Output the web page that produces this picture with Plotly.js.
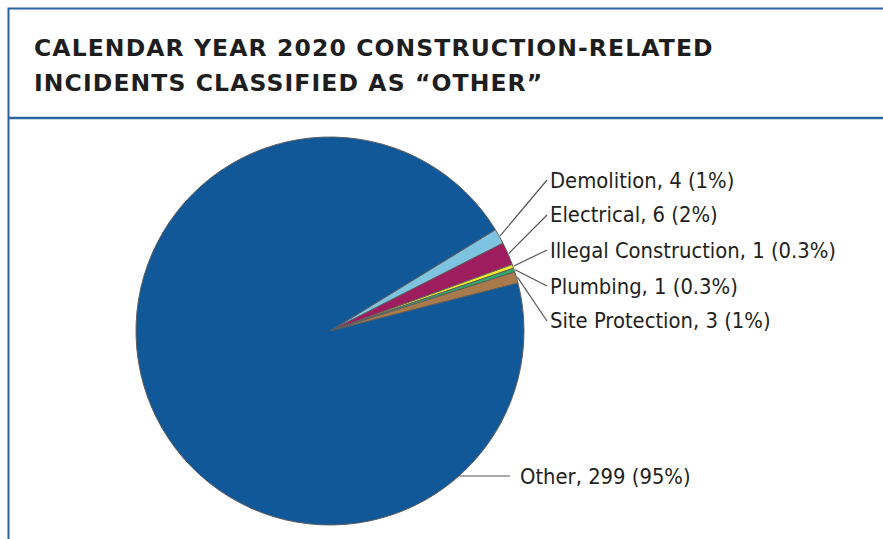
<!DOCTYPE html>
<html>
<head>
<meta charset="utf-8">
<script src="https://cdn.plot.ly/plotly-3.0.1.min.js"></script>
<style>
html,body{margin:0;padding:0;background:#fff;}
#chart{width:883px;height:539px;}
</style>
</head>
<body>
<div id="chart"></div>
<script>
// ---- data ----
const categories = ["Demolition", "Electrical", "Illegal Construction", "Plumbing", "Site Protection", "Other"];
const counts = [4, 6, 1, 1, 3, 299];
const sliceColors = ["#7EC4E1", "#9D1D5F", "#F4E62E", "#2EAA6B", "#A87A4C", "#115898"];
const titleLines = ["CALENDAR YEAR 2020 CONSTRUCTION-RELATED", "INCIDENTS CLASSIFIED AS “OTHER”"];

// ---- layout constants ----
const W = 883, H = 539;
const cx = 330, cy = 331, R = 194;
const rotation = 58.5;
const labelX = [548, 548, 548, 548, 548, 518];
const labelY = [180, 215, 250, 286, 321, 476];
const leaderEndX = 547;
const otherLineEndX = 510;
const titleY = [47.5, 82.5];
const titleLeft = 35;

const total = counts.reduce((a, b) => a + b, 0);
function pctText(v) {
  const p = v / total * 100;
  const r = Math.round(p);
  return r >= 1 ? r + "%" : p.toFixed(1) + "%";
}
const labelTexts = categories.map((c, i) => c + ", " + counts[i] + " (" + pctText(counts[i]) + ")");

const px = x => x / W;
const py = y => 1 - y / H;

// slice mid angles (clockwise from 12 o'clock)
let ang = rotation;
const mids = [];
counts.forEach(v => {
  const span = v / total * 360;
  mids.push(ang + span / 2);
  ang += span;
});

const shapes = [];
const annotations = [];
categories.forEach((c, i) => {
  annotations.push({
    x: px(labelX[i]), y: py(labelY[i]), xref: "paper", yref: "paper",
    xanchor: "left", yanchor: "middle", showarrow: false,
    text: labelTexts[i],
    font: {family: "DejaVu Sans Condensed, Liberation Sans Narrow, sans-serif", size: 21.8, color: "#231f20"}
  });
  let x0, y0, x1, y1;
  if (i === categories.length - 1) {
    y0 = labelY[i];
    x0 = cx + Math.sqrt(R * R - (y0 - cy) * (y0 - cy));
    x1 = otherLineEndX; y1 = y0;
  } else {
    const a = mids[i] * Math.PI / 180;
    x0 = cx + (R + 1) * Math.sin(a);
    y0 = cy - (R + 1) * Math.cos(a);
    x1 = leaderEndX; y1 = labelY[i];
  }
  shapes.push({type: "line", xref: "paper", yref: "paper",
    x0: px(x0), y0: py(y0), x1: px(x1), y1: py(y1),
    line: {color: "#555555", width: 1.2}});
});

// title lines
titleLines.forEach((t, i) => {
  annotations.push({
    x: px(titleLeft - 3), y: py(titleY[i]), xref: "paper", yref: "paper",
    xanchor: "left", yanchor: "middle", showarrow: false,
    text: t,
    font: {family: "DejaVu Sans, sans-serif", size: 23.5, weight: "bold", color: "#1e1e1e"}
  });
});

// frame
shapes.push({type: "rect", xref: "paper", yref: "paper",
  x0: px(8.5), y0: py(620), x1: px(940), y1: py(8.5),
  line: {color: "#2B66A1", width: 2}, fillcolor: "rgba(0,0,0,0)", layer: "below"});
shapes.push({type: "line", xref: "paper", yref: "paper",
  x0: px(8.5), y0: py(118), x1: px(940), y1: py(118),
  line: {color: "#2B66A1", width: 2.5}});

const trace = {
  type: "pie",
  labels: categories,
  values: counts,
  sort: false,
  direction: "clockwise",
  rotation: rotation,
  textinfo: "none",
  hoverinfo: "label+value+percent",
  marker: {colors: sliceColors, line: {color: "#5e5e5e", width: 1}},
  domain: {x: [px(cx - R), px(cx + R)], y: [py(cy + R), py(cy - R)]},
  showlegend: false
};

const layout = {
  width: W, height: H,
  margin: {l: 0, r: 0, t: 0, b: 0},
  paper_bgcolor: "#ffffff",
  title: {text: ""},
  shapes: shapes,
  annotations: annotations,
  showlegend: false
};

Plotly.newPlot("chart", [trace], layout, {displayModeBar: false, staticPlot: true}).then(() => {
  document.querySelectorAll("text.annotation-text").forEach(t => {
    if (!titleLines.includes(t.textContent)) return;
    const before = t.getBBox();
    t.style.letterSpacing = "1.1px";
    const after = t.getBBox();
    const dx = before.x - after.x;
    const tr = t.getAttribute("transform") || "";
    t.setAttribute("transform", tr + " translate(" + dx + ",0)");
  });
});
</script>
</body>
</html>
